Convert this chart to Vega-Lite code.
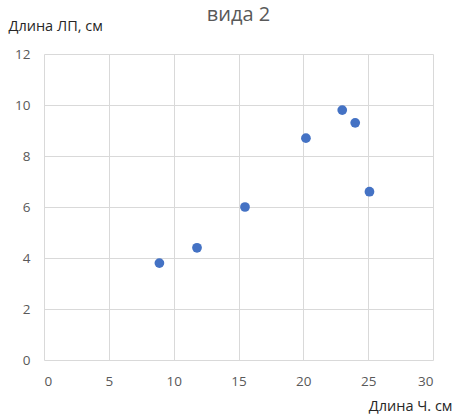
{
  "$schema": "https://vega.github.io/schema/vega-lite/v6.json",
  "autosize": "none",
  "width": 389,
  "height": 306,
  "padding": {"left": 44, "top": 54, "right": 20, "bottom": 54},
  "background": "white",
  "title": {
    "text": "вида 2",
    "anchor": "middle",
    "font": "Open Sans",
    "fontSize": 20,
    "fontWeight": "normal",
    "color": "#595959",
    "baseline": "alphabetic",
    "offset": 0,
    "dy": 23
  },
  "config": {
    "view": {"stroke": null},
    "axis": {
      "labelFont": "Open Sans",
      "labelFontSize": 13.5,
      "labelColor": "#595959",
      "titleFont": "Open Sans",
      "titleFontSize": 14.5,
      "titleFontWeight": "normal",
      "titleColor": "#262626",
      "gridColor": "#d9d9d9",
      "gridWidth": 1,
      "ticks": false,
      "domain": false
    }
  },
  "data": {
    "values": [
      {"x": 8.9, "y": 3.8},
      {"x": 11.8, "y": 4.4},
      {"x": 15.5, "y": 6.0},
      {"x": 20.2, "y": 8.7},
      {"x": 23.0, "y": 9.8},
      {"x": 24.0, "y": 9.3},
      {"x": 25.1, "y": 6.6}
    ]
  },
  "mark": {"type": "point", "filled": true, "shape": "circle", "size": 95, "color": "#4472C4", "opacity": 1},
  "encoding": {
    "x": {
      "field": "x",
      "type": "quantitative",
      "scale": {"domain": [0, 30], "nice": false, "zero": true},
      "axis": {
        "values": [0, 5, 10, 15, 20, 25, 30],
        "title": "Длина Ч. см",
        "labelPadding": 14,
        "titleAlign": "right",
        "titleAnchor": null,
        "titleX": 408,
        "titleY": 50,
        "titleBaseline": "alphabetic"
      }
    },
    "y": {
      "field": "y",
      "type": "quantitative",
      "scale": {"domain": [0, 12], "nice": false},
      "axis": {
        "values": [0, 2, 4, 6, 8, 10, 12],
        "title": "Длина ЛП, см",
        "labelPadding": 14,
        "titleAngle": 0,
        "titleAlign": "left",
        "titleAnchor": null,
        "titleX": -36,
        "titleY": -24,
        "titleBaseline": "alphabetic"
      }
    }
  }
}
